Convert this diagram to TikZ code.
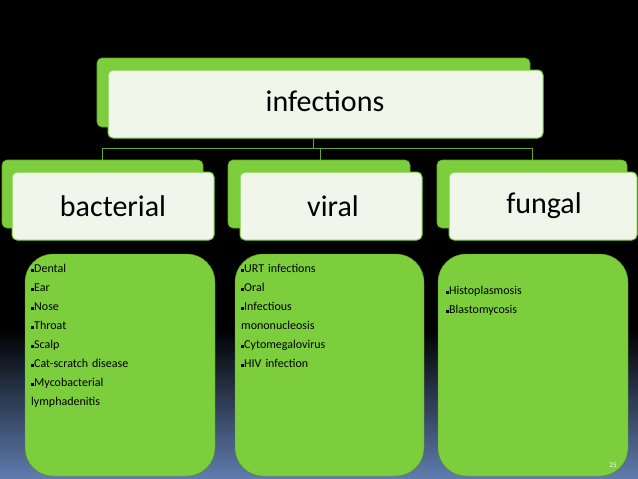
\documentclass[tikz,border=0pt]{standalone}
\usepackage{fontspec}
\setmainfont{Carlito}
\definecolor{lg}{RGB}{125,206,60}
\definecolor{pale}{RGB}{240,247,234}
\definecolor{bgb}{RGB}{95,125,175}
\begin{document}
\begin{tikzpicture}[x=1pt,y=-1pt,
 back/.style={fill=lg,draw=lg!80!black,rounded corners=5pt,line width=0.6pt},
 front/.style={fill=pale,draw=lg,rounded corners=5pt,line width=1pt},
 lbl/.style={font=\fontsize{30}{30}\selectfont,text=black},
 leaf/.style={fill=lg,draw=lg!70!black,rounded corners=28pt},
 item/.style={font=\fontsize{12}{19}\selectfont,align=left,anchor=north west,inner sep=0pt,text width=185pt},
 con/.style={draw=lg!80!black,line width=0.8pt}]
\useasboundingbox (0,0) rectangle (638,479);
\fill[black] (0,0) rectangle (638,330);
\shade[top color=black,bottom color=bgb] (0,329) rectangle (638,479);
% top
\draw[back] (97,58) rectangle (530,127);
\draw[front] (108,70) rectangle (543,138);
\node[lbl] (inf) at (325,101) {infections};
% level 2
\draw[back] (2,160) rectangle (203,228);
\draw[front] (12,172) rectangle (214,240);
\node[lbl] (bac) at (113,206) {bacterial};
\draw[back] (228,160) rectangle (410,228);
\draw[front] (240,172) rectangle (422,240);
\node[lbl] (vir) at (333,206) {viral};
\draw[back] (437,160) rectangle (627,228);
\draw[front] (449,172) rectangle (637,240);
\node[lbl] (fun) at (544,206) {fungal};
\coordinate (j) at (313,148);
\draw[con] (313,138) -- (j);
\draw[con] (102,160) -- (102,148) -- (532,148) -- (532,160);
\draw[con] (320,148) -- (320,160);
% leaves
\draw[leaf] (25,254) rectangle (215,476);
\draw[leaf] (235,254) rectangle (424,476);
\draw[leaf] (438,254) rectangle (628,476);
\def\b{\rule[0.5pt]{3pt}{3pt}}
\node[item] (l1) at (31,264) {\b Dental\\\b Ear\\\b Nose\\\b Throat\\\b Scalp\\\b Cat-scratch disease\\\b Mycobacterial\\lymphadenitis};
\node[item] (l2) at (241,264) {\b URT infections\\\b Oral\\\b Infectious\\mononucleosis\\\b Cytomegalovirus\\\b HIV infection};
\node[item] (l3) at (446,286) {\b Histoplasmosis\\\b Blastomycosis};
\node[font=\fontsize{7}{7}\selectfont,text=white] (pg) at (613,465) {25};
\end{tikzpicture}
\end{document}
